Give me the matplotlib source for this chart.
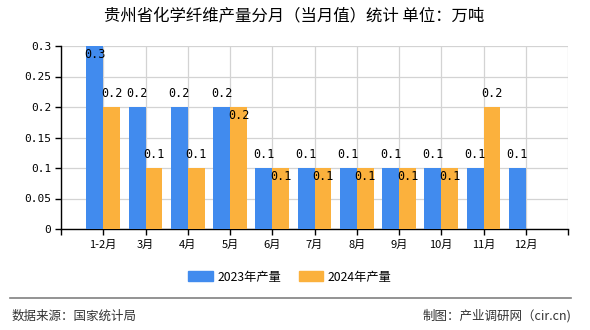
import numpy as np
import matplotlib
matplotlib.use('Agg')
import matplotlib.pyplot as plt
from matplotlib.lines import Line2D

plt.rcParams['font.family'] = ['Noto Sans CJK SC', 'DejaVu Sans']

months = ['1-2月', '3月', '4月', '5月', '6月', '7月', '8月', '9月', '10月', '11月', '12月']
v2023 = [0.3, 0.2, 0.2, 0.2, 0.1, 0.1, 0.1, 0.1, 0.1, 0.1, 0.1]
v2024 = [0.2, 0.1, 0.1, 0.2, 0.1, 0.1, 0.1, 0.1, 0.1, 0.2, None]
y_ticks = [0, 0.05, 0.1, 0.15, 0.2, 0.25, 0.3]
y_labels = ['0', '0.05', '0.1', '0.15', '0.2', '0.25', '0.3']

c23 = '#418BEE'
c24 = '#FBB13D'

fig = plt.figure(figsize=(5.9, 3.3), dpi=100)
ax = fig.add_axes([61 / 590, 1 - 229 / 330, 507 / 590, 183 / 330])

x = np.arange(1, len(months) + 1)
w = 0.4
ax.bar(x - w / 2, v2023, width=w, color=c23, zorder=3)
x24 = [xi for xi, v in zip(x, v2024) if v is not None]
y24 = [v for v in v2024 if v is not None]
ax.bar(np.array(x24) + w / 2, y24, width=w, color=c24, zorder=3)

ax.set_xlim(0, 12)
ax.set_ylim(0, 0.3)

mono = ['DejaVu Sans Mono']
# 标签：顶到头或与旁边的柱子一样高时放在柱子里面
for xi, v in zip(x, v2023):
    if v >= 0.3:
        ax.text(xi - w / 2, v - 0.004, str(v), ha='center', va='top', fontsize=8.5, family=mono, zorder=4)
    else:
        ax.text(xi - w / 2, v + 0.012, str(v), ha='center', va='bottom', fontsize=8.5, family=mono, zorder=4)
for xi, v, o in zip(x, v2024, v2023):
    if v is None:
        continue
    if v == o:
        ax.text(xi + w / 2, v - 0.004, str(v), ha='center', va='top', fontsize=8.5, family=mono, zorder=4)
    else:
        ax.text(xi + w / 2, v + 0.012, str(v), ha='center', va='bottom', fontsize=8.5, family=mono, zorder=4)

ax.set_xticks(np.arange(0, 13))
ax.set_xticklabels([''] + months + [''], fontsize=8)
ax.set_yticks(y_ticks)
ax.set_yticklabels(y_labels, fontsize=8, family=mono)
ax.grid(True, color='#d3d3d3', linewidth=0.9, zorder=0)
ax.tick_params(axis='both', length=4, width=1, color='black', pad=3)
ax.tick_params(axis='x', pad=4)
for s in ['top', 'right']:
    ax.spines[s].set_visible(False)
for s in ['left', 'bottom']:
    ax.spines[s].set_color('black')
    ax.spines[s].set_linewidth(1)

fig.text(294.5 / 590, 1 - 17 / 330, '贵州省化学纤维产量分月（当月值）统计 单位：万吨',
         ha='center', va='center', fontsize=11.8)

handles = [plt.Rectangle((0, 0), 1, 1, color=c23), plt.Rectangle((0, 0), 1, 1, color=c24)]
fig.legend(handles, ['2023年产量', '2024年产量'], loc='center', bbox_to_anchor=(290 / 590, 1 - 277 / 330),
           ncol=2, frameon=False, fontsize=8.8, handlelength=2.0, handleheight=0.9, columnspacing=1.4,
           handletextpad=0.4)

fig.add_artist(Line2D([10 / 590, 571 / 590], [1 - 298 / 330] * 2, color='#808080', linewidth=1.2))
fig.text(12 / 590, 1 - 316 / 330, '数据来源：国家统计局', ha='left', va='center', fontsize=9, color='#333333')
fig.text(571 / 590, 1 - 316 / 330, '制图：产业调研网（cir.cn)', ha='right', va='center', fontsize=9, color='#333333')

fig.savefig('out.png', dpi=100)
